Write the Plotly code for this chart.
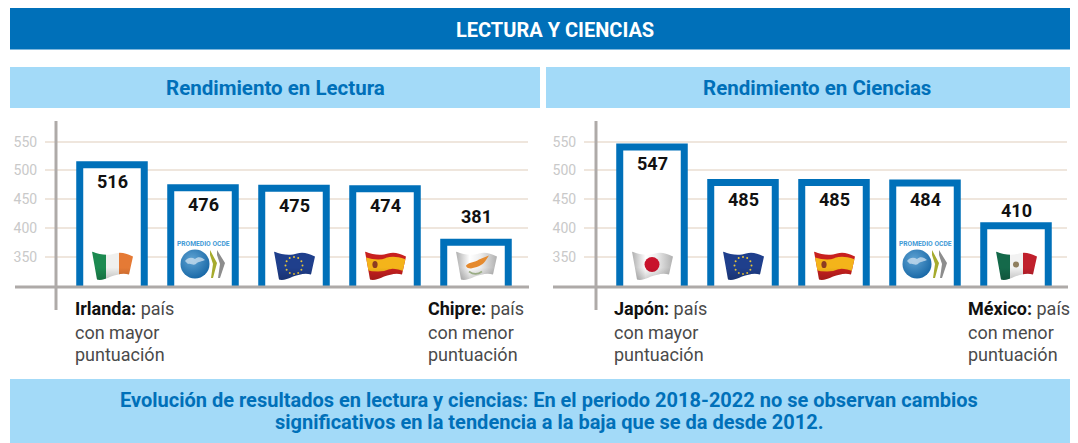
import base64
import math
import plotly.graph_objects as go

W, H = 1078, 443

# ---- data ----
lectura_paises = ["Irlanda", "Promedio OCDE", "Unión Europea", "España", "Chipre"]
lectura_valores = [516, 476, 475, 474, 381]
ciencias_paises = ["Japón", "Unión Europea", "España", "Promedio OCDE", "México"]
ciencias_valores = [547, 485, 485, 484, 410]
y_ticks = [350, 400, 450, 500, 550]
titulo = "LECTURA Y CIENCIAS"
subtitulo_l = "Rendimiento en Lectura"
subtitulo_c = "Rendimiento en Ciencias"
conclusion_1 = "Evolución de resultados en lectura y ciencias: En el periodo 2018-2022 no se observan cambios"
conclusion_2 = "significativos en la tendencia a la baja que se da desde 2012."

AZUL = "#0070b9"
CELESTE = "#a3daf8"
GRIS = "#aeaaa8"
FONT = "Roboto"

def px(x): return x / W
def py(y): return 1 - y / H

OUTLINE = "M1 1C10 5 18 5 24 3C30 1 36 3 42 6L38 24C32 22 26 24 20 26C14 29 9 30 6 29Z"
WAVE = "M-2 {y}C10 {a} 18 {a} 24 {b}C30 {c} 36 {b} 44 {d}"

def flag_svg(inner):
    svg = ('<svg xmlns="http://www.w3.org/2000/svg" viewBox="0 0 42 31" width="168" height="124">'
           '<defs><clipPath id="c"><path d="' + OUTLINE + '"/></clipPath>'
           '<linearGradient id="g" x1="0" x2="1" y1="0" y2="0">'
           '<stop offset="0" stop-color="#a9a9a9"/><stop offset="0.35" stop-color="#ffffff"/>'
           '<stop offset="0.6" stop-color="#eeeeee"/><stop offset="1" stop-color="#b0b0b0"/></linearGradient>'
           '<linearGradient id="s" x1="0" x2="0" y1="0" y2="1">'
           '<stop offset="0.55" stop-color="#000" stop-opacity="0"/><stop offset="1" stop-color="#000" stop-opacity="0.22"/>'
           '</linearGradient></defs><g clip-path="url(#c)">' + inner +
           '<rect width="42" height="31" fill="url(#s)"/></g></svg>')
    return "data:image/svg+xml;base64," + base64.b64encode(svg.encode()).decode()

def stars():
    return "".join('<circle cx="%.1f" cy="%.1f" r="1" fill="#e9c53a"/>' % (
        21 + 8.5 * math.cos(i * math.pi / 6), 15 + 8.5 * math.sin(i * math.pi / 6)) for i in range(12))

FLAGS = {
    "Irlanda": flag_svg('<rect width="15" height="31" fill="#1c8a50"/><rect x="15" width="13" height="31" fill="#f0f0ee"/>'
                        '<rect x="28" width="14" height="31" fill="#e57a35"/>'),
    "Unión Europea": flag_svg('<rect width="42" height="31" fill="#1f3f8c"/>' + stars()),
    "España": flag_svg('<rect width="42" height="31" fill="#c8201f"/>'
                       '<path d="' + WAVE.format(y=12, a=16, b=13, c=11, d=16) + '" fill="none" stroke="#f4b41a" stroke-width="12"/>'
                       '<ellipse cx="11" cy="14" rx="2.6" ry="3.6" fill="#8c3b22"/>'),
    "Chipre": flag_svg('<rect width="42" height="31" fill="url(#g)"/>'
                       '<path d="M11 15C15 11 20 12 24 9L34 5L30 11C27 15 21 17 16 18C13 18 11 17 11 15Z" fill="#e58a2e"/>'
                       '<path d="M14 21C18 24 23 24 27 21" fill="none" stroke="#a9bd92" stroke-width="1.6"/>'),
    "Japón": flag_svg('<rect width="42" height="31" fill="url(#g)"/><circle cx="21" cy="14" r="7.5" fill="#c8132c"/>'),
    "México": flag_svg('<rect width="15" height="31" fill="#14694a"/><rect x="15" width="13" height="31" fill="#f2f2f2"/>'
                       '<rect x="28" width="14" height="31" fill="#c0202c"/>'
                       '<circle cx="21" cy="14" r="3" fill="#8f7f5f"/>'),
}
OCDE_LOGO = ('<svg xmlns="http://www.w3.org/2000/svg" viewBox="0 0 46 30" width="184" height="120">'
             '<defs><radialGradient id="b" cx="0.4" cy="0.35" r="0.8"><stop offset="0" stop-color="#5fa3d3"/>'
             '<stop offset="1" stop-color="#0b5d9e"/></radialGradient></defs>'
             '<circle cx="15" cy="15" r="14.5" fill="url(#b)"/>'
             '<path d="M5 12C8 8 12 8 15 10C18 7 22 8 25 11C22 13 18 12 16 15C13 17 11 14 8 15Z" fill="#cfe2f0" opacity="0.75"/>'
             '<path d="M30 1L37 14L33 29L31 29L33 15L30 6Z" fill="#a6ab2e"/>'
             '<path d="M37 1L45 14L40 29L38 29L40 15L37 6Z" fill="#8d8d8d"/></svg>')
OCDE_SRC = "data:image/svg+xml;base64," + base64.b64encode(OCDE_LOGO.encode()).decode()

Y_RANGE = [297.3, 584.3]
BAR_SHIFT = 6  # the outer edge of the 7px outline, not its centre, sits on the value
SPACING = 91
panels = [
    dict(x="x", y="y", y2="y3", dom=(45, 528), c0=112, axis_x=56, base_l=15,
         cats=lectura_paises, vals=lectura_valores, above=23, text_x=(75, 428),
         notes=(("Irlanda:", "mayor"), ("Chipre:", "menor"))),
    dict(x="x2", y="y2", y2="y4", dom=(584, 1067), c0=652, axis_x=596, base_l=553,
         cats=ciencias_paises, vals=ciencias_valores, above=12, text_x=(614, 968),
         notes=(("Japón:", "mayor"), ("México:", "menor"))),
]

fig = go.Figure()
shapes, annots, images = [], [], []

def band(x0, y0, x1, y1, color):
    shapes.append(dict(type="rect", xref="paper", yref="paper", x0=px(x0), x1=px(x1), y0=py(y0), y1=py(y1),
                       fillcolor=color, line_width=0, layer="below"))

def text(x, y, s, size, color, anchor="center", bold=True):
    annots.append(dict(xref="paper", yref="paper", x=px(x), y=py(y), text=("<b>%s</b>" % s) if bold else s,
                       showarrow=False, xanchor=anchor, yanchor="middle", align="center" if anchor == "center" else "left",
                       font=dict(family=FONT, size=size, color=color)))

band(10, 8, 1070, 49.5, AZUL)
band(10, 67, 540, 108, CELESTE)
band(546, 67, 1070, 108, CELESTE)
band(10, 379, 1070, 443, CELESTE)
text(555, 30, titulo, 20, "white")
text(275, 88, subtitulo_l, 20.5, AZUL)
text(817, 88, subtitulo_c, 20.5, AZUL)
text(549, 400, conclusion_1, 20, AZUL)
text(549, 422, conclusion_2, 20, AZUL)

layout_axes = {}
for n, p in enumerate(panels):
    suffix = "" if n == 0 else "2"
    xa, ya = p["x"], p["y"]
    # invisible carrier so the tick/grid axis is drawn
    fig.add_trace(go.Scatter(x=p["cats"], y=p["vals"], xaxis=xa, yaxis=ya, mode="markers",
                             marker=dict(opacity=0), hoverinfo="skip", showlegend=False))
    fig.add_trace(go.Bar(x=p["cats"], y=[v - 280 for v in p["vals"]], base=280, xaxis=xa, yaxis=p["y2"],
                         width=0.709, marker=dict(color="white", line=dict(color=AZUL, width=7)),
                         cliponaxis=True, hoverinfo="skip", showlegend=False))
    d0, d1 = p["dom"]
    rng = [(d0 - p["c0"]) / SPACING, (d1 - p["c0"]) / SPACING]
    layout_axes["xaxis" + suffix] = dict(type="category", categoryorder="array", categoryarray=p["cats"],
                                         domain=[px(d0), px(d1)], range=rng, anchor=ya,
                                         showticklabels=False, showgrid=False, zeroline=False, showline=False, ticks="")
    y_dom = [py(287), py(122)]
    layout_axes["yaxis" + suffix] = dict(domain=y_dom, range=Y_RANGE, anchor=xa, tickvals=y_ticks, ticks="outside",
                                         ticklen=4, tickcolor="rgba(0,0,0,0)", showline=False, zeroline=False,
                                         showgrid=True, gridcolor="#efe6dd", gridwidth=1.5,
                                         tickfont=dict(family=FONT, size=14, color="#c9c9c9"))
    layout_axes["yaxis" + ("3" if n == 0 else "4")] = dict(domain=y_dom, overlaying=ya, anchor=xa, visible=False,
                                                           range=[Y_RANGE[0] + BAR_SHIFT, Y_RANGE[1] + BAR_SHIFT])
    shapes.append(dict(type="line", xref="paper", yref="paper", x0=px(p["axis_x"]), x1=px(p["axis_x"]),
                       y0=py(121), y1=py(310), line=dict(color=GRIS, width=3)))
    shapes.append(dict(type="line", xref="paper", yref="paper", x0=px(p["base_l"]), x1=px(d1 + 1),
                       y0=py(287), y1=py(287), line=dict(color=GRIS, width=3)))
    for i, (c, v) in enumerate(zip(p["cats"], p["vals"])):
        top_px = 142 + (550 - v) * 0.575
        is_low = i == len(p["cats"]) - 1
        label_y = top_px - p["above"] if is_low else top_px + 20
        cx = p["c0"] + i * SPACING
        text(cx, label_y, str(v), 18, "#111111")
        if c == "Promedio OCDE":
            text(cx, 243.5, "PROMEDIO OCDE", 6.7, "#3f9ad6")
            images.append(dict(source=OCDE_SRC, xref="paper", yref="paper", x=px(cx - 23), y=py(249), sizex=px(46), sizey=30 / H,
                               xanchor="left", yanchor="top", sizing="stretch", layer="above"))
        else:
            images.append(dict(source=FLAGS[c], xref="paper", yref="paper", x=px(cx - 21), y=py(250.5), sizex=px(42), sizey=31 / H,
                               xanchor="left", yanchor="top", sizing="stretch", layer="above"))
    for tx, (name, grade) in zip(p["text_x"], p["notes"]):
        for ly, s in ((308, '<b style="color:#111">%s</b> país' % name), (332, "con %s" % grade), (354, "puntuación")):
            annots.append(dict(xref="paper", yref="paper", x=px(tx - 2), y=py(ly), xanchor="left", yanchor="middle",
                               showarrow=False, text=s, font=dict(family=FONT, size=18, color="#4a4a4a")))

fig.update_layout(width=W, height=H, margin=dict(l=0, r=0, t=0, b=0), plot_bgcolor="white", paper_bgcolor="white",
                  barmode="overlay", shapes=shapes, annotations=annots, images=images, showlegend=False, **layout_axes)
fig.write_html("out.html", post_script="document.body.style.margin='0';", config={"displayModeBar": False})
